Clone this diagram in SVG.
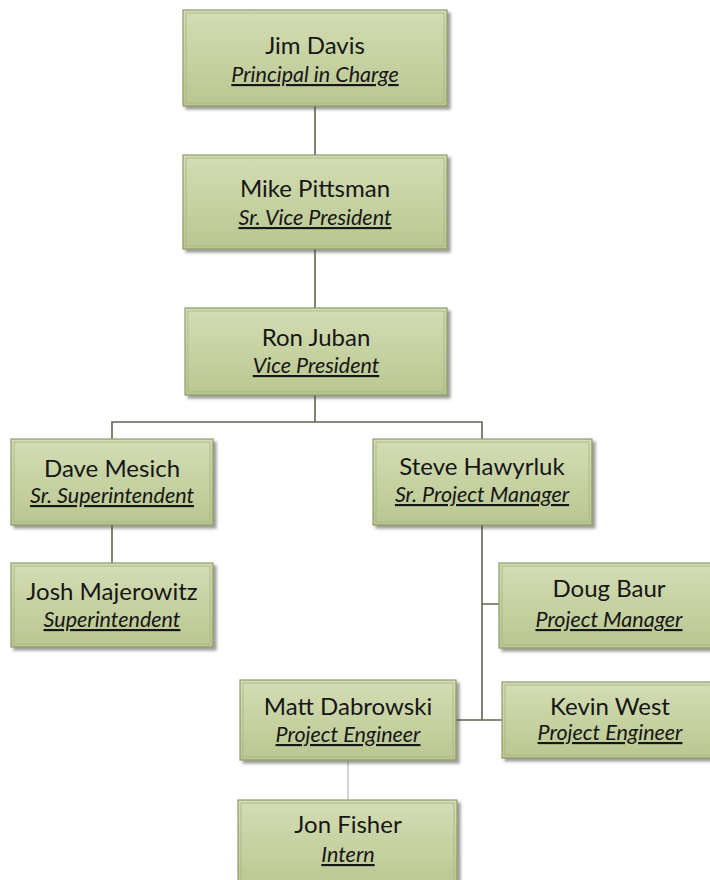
<svg xmlns="http://www.w3.org/2000/svg" width="710" height="880" viewBox="0 0 710 880">
<style>
.name{font-family:Lato,"Liberation Sans",sans-serif;font-size:24px;fill:#161616;text-anchor:middle}
.title{font-family:Lato,"Liberation Sans",sans-serif;font-size:21.5px;font-style:italic;text-decoration:underline;fill:#161616;text-anchor:middle}
.box{fill:url(#g);stroke:#8e9a6c;stroke-width:1.2;filter:url(#sh)}
.inner{fill:none;stroke:#a7b383;stroke-width:0.8}
.conn{stroke:#626452;stroke-width:1.6;fill:none}
.conn2{stroke:#a9a9a0;stroke-width:1;fill:none}
</style>
<defs>
<linearGradient id="g" x1="0" y1="0" x2="0" y2="1">
<stop offset="0" stop-color="#d4ddb4"/>
<stop offset="1" stop-color="#b9c791"/>
</linearGradient>
<filter id="sh" x="-10%" y="-10%" width="125%" height="130%">
<feDropShadow dx="3" dy="3" stdDeviation="1.5" flood-color="#4a4a40" flood-opacity="0.55"/>
</filter>
</defs>
<rect width="710" height="880" fill="#ffffff"/>
<g id="connectors">
<line class="conn" x1="315" y1="106" x2="315" y2="155"/>
<line class="conn" x1="315" y1="249" x2="315" y2="308"/>
<path class="conn" d="M315 395 V422 M112 439 V422 H482 V439"/>
<line class="conn" x1="112" y1="525" x2="112" y2="563"/>
<path class="conn" d="M482 525 V720 M482 604 H499 M456 720 H502"/>
<line class="conn2" x1="348" y1="760" x2="348" y2="800"/>
</g>
<g id="jim">
<rect class="box" x="183" y="10" width="264" height="96"/>
<rect class="inner" x="186" y="13" width="258" height="90"/>
<text class="name" x="315" y="54">Jim Davis</text>
<text class="title" x="315" y="82">Principal in Charge</text>
</g>
<g id="mike">
<rect class="box" x="183" y="155" width="264" height="94"/>
<rect class="inner" x="186" y="158" width="258" height="88"/>
<text class="name" x="315" y="197">Mike Pittsman</text>
<text class="title" x="315" y="225">Sr. Vice President</text>
</g>
<g id="ron">
<rect class="box" x="185" y="308" width="262" height="87"/>
<rect class="inner" x="188" y="311" width="256" height="81"/>
<text class="name" x="316" y="346">Ron Juban</text>
<text class="title" x="316" y="373">Vice President</text>
</g>
<g id="dave">
<rect class="box" x="11" y="439" width="202" height="86"/>
<rect class="inner" x="14" y="442" width="196" height="80"/>
<text class="name" x="112" y="477">Dave Mesich</text>
<text class="title" x="112" y="503">Sr. Superintendent</text>
</g>
<g id="josh">
<rect class="box" x="11" y="563" width="202" height="84"/>
<rect class="inner" x="14" y="566" width="196" height="78"/>
<text class="name" x="112" y="600">Josh Majerowitz</text>
<text class="title" x="112" y="627">Superintendent</text>
</g>
<g id="steve">
<rect class="box" x="373" y="439" width="219" height="86"/>
<rect class="inner" x="376" y="442" width="213" height="80"/>
<text class="name" x="482" y="475">Steve Hawyrluk</text>
<text class="title" x="482" y="502">Sr. Project Manager</text>
</g>
<g id="doug">
<rect class="box" x="499" y="563" width="221" height="85"/>
<rect class="inner" x="502" y="566" width="215" height="79"/>
<text class="name" x="609" y="597">Doug Baur</text>
<text class="title" x="609" y="627">Project Manager</text>
</g>
<g id="kevin">
<rect class="box" x="502" y="682" width="217" height="76"/>
<rect class="inner" x="505" y="685" width="211" height="70"/>
<text class="name" x="610" y="715">Kevin West</text>
<text class="title" x="610" y="740">Project Engineer</text>
</g>
<g id="matt">
<rect class="box" x="240" y="680" width="216" height="80"/>
<rect class="inner" x="243" y="683" width="210" height="74"/>
<text class="name" x="348" y="715">Matt Dabrowski</text>
<text class="title" x="348" y="742">Project Engineer</text>
</g>
<g id="jon">
<rect class="box" x="238" y="800" width="219" height="90"/>
<rect class="inner" x="241" y="803" width="213" height="84"/>
<text class="name" x="348" y="833">Jon Fisher</text>
<text class="title" x="348" y="862">Intern</text>
</g>
</svg>
